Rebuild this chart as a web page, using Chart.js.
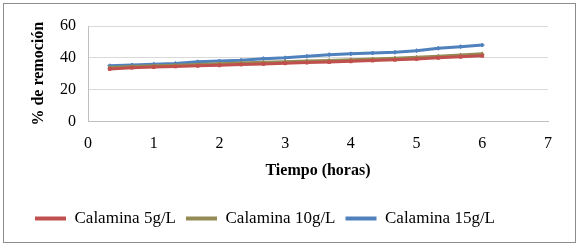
<!DOCTYPE html>
<html>
<head>
<meta charset="utf-8">
<script src="https://cdn.jsdelivr.net/npm/chart.js@4/dist/chart.umd.min.js"></script>
<style>
  html, body { margin: 0; padding: 0; background: #fff; }
  #wrap { width: 579px; height: 247px; }
</style>
</head>
<body>
<div id="wrap"><canvas id="remocionChart" width="579" height="247"></canvas></div>
<script>
// tiempo en horas (cada 20 min)
var horas = [0.33, 0.67, 1, 1.33, 1.67, 2, 2.33, 2.67, 3, 3.33, 3.67, 4, 4.33, 4.67, 5, 5.33, 5.67, 6];

var calamina5 = [33, 33.8, 34.2, 34.6, 35, 35.3, 35.8, 36.2, 36.6, 37, 37.4, 37.8, 38.3, 38.8, 39.3, 40, 40.7, 41.3];
var calamina10 = [34, 34.5, 35, 35.3, 35.8, 36.3, 36.8, 37.2, 37.6, 38, 38.4, 38.8, 39.2, 39.8, 40.3, 41, 41.8, 42.5];
var calamina15 = [35, 35.5, 36, 36.5, 37.5, 38, 38.5, 39.5, 40, 41, 42, 42.5, 43, 43.5, 44.5, 46, 47, 48];

var xTicks = [0, 1, 2, 3, 4, 5, 6, 7];
var yTicks = [0, 20, 40, 60];

function toPoints(ys) {
    return horas.map(function (h, i) { return { x: h, y: ys[i] }; });
}

var marco = {
    id: 'marco',
    afterDraw: function (chart) {
        var ctx = chart.ctx;
        ctx.save();
        ctx.strokeStyle = '#8c8c8c';
        ctx.lineWidth = 1;
        ctx.strokeRect(3.5, 3.5, 572, 239);
        ctx.restore();
    }
};

var serie = function (label, ys, color, style) {
    return {
        label: label,
        data: toPoints(ys),
        showLine: true,
        borderColor: color,
        backgroundColor: color,
        borderWidth: 3,
        pointRadius: 2,
        pointStyle: style,
        pointBorderWidth: 1,
        tension: 0
    };
};

new Chart('remocionChart', { //eslint-disable-line
    type: 'scatter',
    data: {
        datasets: [
            serie('Calamina 5g/L', calamina5, '#c0504d', 'rect'),
            serie('Calamina 10g/L', calamina10, '#948a54', 'triangle'),
            serie('Calamina 15g/L', calamina15, '#4f81bd', 'rectRot')
        ]
    },
    options: {
        responsive: false,
        animation: false,
        layout: { padding: { left: 25, right: 31, top: 26, bottom: 10 } },
        plugins: {
            tooltip: { enabled: false },
            legend: {
                position: 'bottom',
                align: 'start',
                labels: {
                    font: { family: 'Liberation Serif', size: 17 },
                    color: '#000',
                    boxWidth: 31,
                    boxHeight: 4,
                    padding: 10,
                    generateLabels: function (chart) {
                        return chart.data.datasets.map(function (ds, i) {
                            return {
                                text: ds.label,
                                fillStyle: ds.borderColor,
                                strokeStyle: ds.borderColor,
                                lineWidth: 0,
                                datasetIndex: i
                            };
                        });
                    }
                }
            }
        },
        scales: {
            x: {
                type: 'linear',
                min: 0,
                max: 7,
                afterBuildTicks: function (axis) {
                    axis.ticks = xTicks.map(function (v) { return { value: v }; });
                },
                afterFit: function (axis) { axis.height = 78.5; },
                grid: { display: false, drawTicks: false },
                border: { color: '#bfbfbf' },
                ticks: {
                    font: { family: 'Liberation Serif', size: 16 },
                    color: '#000',
                    padding: 13
                },
                title: {
                    display: true,
                    text: 'Tiempo (horas)',
                    font: { family: 'Liberation Serif', size: 16, weight: 'bold' },
                    color: '#000',
                    padding: { top: 6, bottom: 20 }
                }
            },
            y: {
                min: 0,
                max: 60,
                afterBuildTicks: function (axis) {
                    axis.ticks = yTicks.map(function (v) { return { value: v }; });
                },
                afterFit: function (axis) { axis.width = 63; },
                grid: { color: '#d9d9d9', drawTicks: false },
                border: { color: '#bfbfbf' },
                ticks: {
                    font: { family: 'Liberation Serif', size: 16 },
                    color: '#000',
                    padding: 12
                },
                title: {
                    display: true,
                    text: '% de remoción',
                    font: { family: 'Liberation Serif', size: 16, weight: 'bold' },
                    color: '#000',
                    padding: { top: 4, bottom: 4 }
                }
            }
        }
    },
    plugins: [marco]
});
</script>
</body>
</html>
